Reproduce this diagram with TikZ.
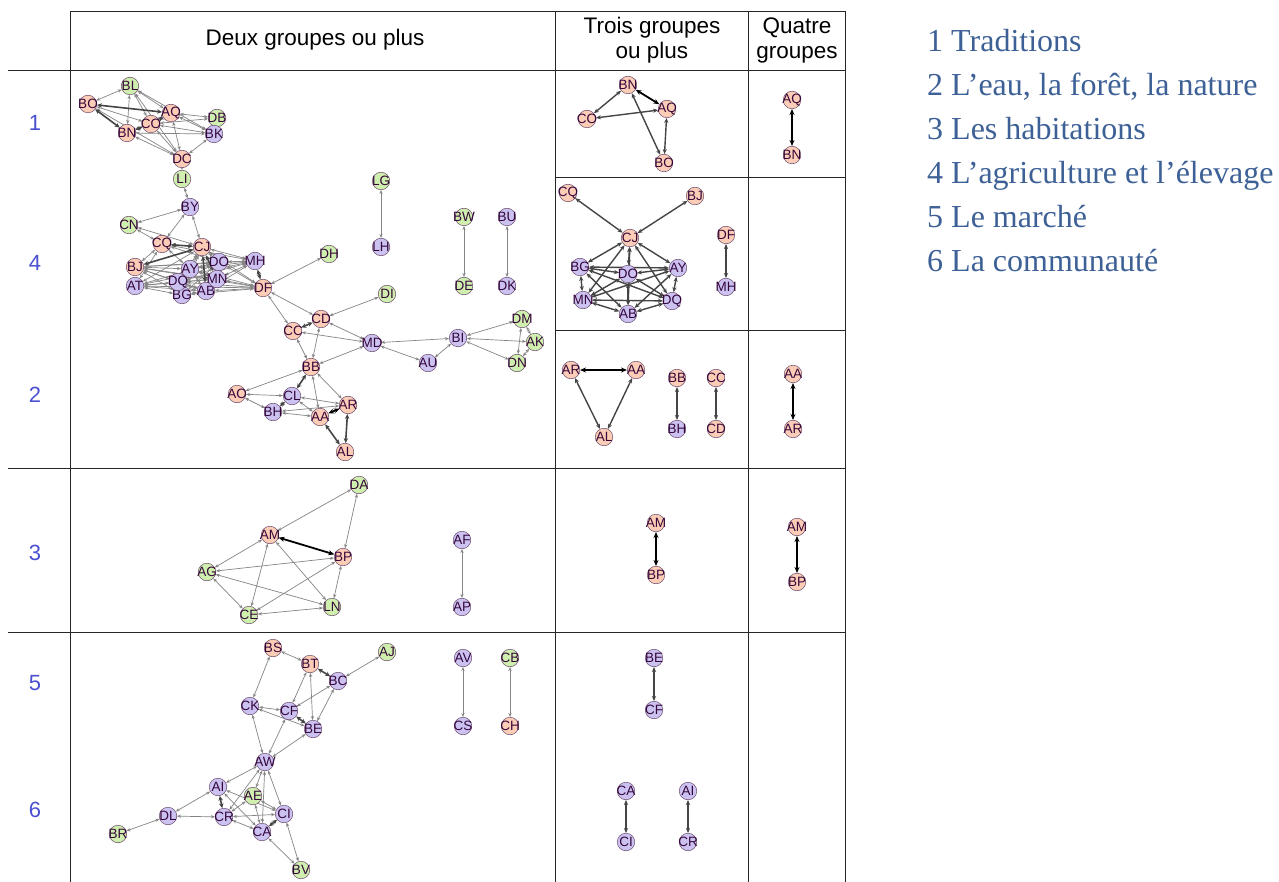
\documentclass[tikz,border=0pt]{standalone}
\usepackage{fontspec}
\setmainfont{Liberation Serif}
\setsansfont{Liberation Sans}
\usetikzlibrary{arrows.meta}
\definecolor{pinkc}{HTML}{FCCDB6}
\definecolor{greenc}{HTML}{CFEFAE}
\definecolor{lavc}{HTML}{CBC2F2}
\definecolor{nbord}{HTML}{6A4A6A}
\definecolor{ntext}{HTML}{35063A}
\definecolor{edgec}{HTML}{858585}
\definecolor{edged}{HTML}{454545}
\definecolor{rowblue}{HTML}{4A50D0}
\definecolor{legblue}{HTML}{3D6196}
\pgfdeclarelayer{bglayer}
\pgfdeclarelayer{edgelayer}
\pgfsetlayers{bglayer,edgelayer,main}
\newcommand\gn[4]{\node[#1] (#2) at (#3) {\makebox[0pt]{#4}};}
\begin{document}
\begin{tikzpicture}[x=1pt,y=-1pt,
  nd/.style={circle,draw=nbord,line width=0.5pt,minimum size=17.5pt,inner sep=0pt,text=ntext,font=\sffamily\fontsize{13.5}{13.5}\selectfont},
  pk/.style={nd,fill=pinkc},
  gr/.style={nd,fill=greenc},
  lv/.style={nd,fill=lavc},
  e/.style={draw=edgec,line width=0.7pt,arrows={Stealth[length=4pt,width=3.2pt]-Stealth[length=4pt,width=3.2pt]}},
  et/.style={draw=edged,line width=1.6pt,arrows={Stealth[length=5pt,width=4.5pt]-Stealth[length=5pt,width=4.5pt]}},
  eb/.style={draw=black,line width=1.8pt,arrows={Stealth[length=6pt,width=5pt]-Stealth[length=6pt,width=5pt]}},
  em/.style={draw=edged,line width=1.4pt,arrows={Stealth[length=5pt,width=4.2pt]-Stealth[length=5pt,width=4.2pt]}},
  tl/.style={draw=black!85,line width=0.9pt},
  hd/.style={font=\sffamily\fontsize{22.5}{25}\selectfont,align=center,inner sep=0pt},
  rl/.style={font=\sffamily\fontsize{22}{22}\selectfont,text=rowblue,inner sep=0pt},
  lg/.style={font=\rmfamily\fontsize{32}{32}\selectfont,text=legblue,anchor=base west,inner sep=0pt}
]
\useasboundingbox (0,0) rectangle (1279,882);
\begin{pgfonlayer}{bglayer}
\fill[white] (0,0) rectangle (1279,882);
\end{pgfonlayer}
% table frame
\draw[tl] (70,11) -- (845,11);
\draw[tl] (8,70) -- (845,70);
\draw[tl] (555,177) -- (845,177);
\draw[tl] (555,330) -- (845,330);
\draw[tl] (8,468) -- (845,468);
\draw[tl] (8,632) -- (845,632);
\draw[tl] (70,11) -- (70,882);
\draw[tl] (555,11) -- (555,882);
\draw[tl] (748,11) -- (748,882);
\draw[tl] (845,11) -- (845,882);
% headers
\node[hd] (h1) at (315,40) {Deux groupes ou plus};
\node[hd] (h2) at (652,40) {Trois groupes\\ou plus};
\node[hd] (h3) at (797,40) {Quatre\\groupes};
% row labels
\node[rl] (r1) at (35,123) {1};
\node[rl] (r4) at (35,263) {4};
\node[rl] (r2) at (35,395) {2};
\node[rl] (r3) at (35,553) {3};
\node[rl] (r5) at (35,683) {5};
\node[rl] (r6) at (35,810) {6};
% legend
\node[lg] (l1) at (927,52) {1 Traditions};
\node[lg] (l2) at (927,96) {2 L’eau, la forêt, la nature};
\node[lg] (l3) at (927,140) {3 Les habitations};
\node[lg] (l4) at (927,184) {4 L’agriculture et l’élevage};
\node[lg] (l5) at (927,228) {5 Le marché};
\node[lg] (l6) at (927,272) {6 La communauté};
% ---------- panel a : rows 1,4,2, deux groupes
\gn{gr}{aBL}{130,86}{BL}
\gn{pk}{aBO}{88,104}{BO}
\gn{pk}{aAQ}{171,113}{AQ}
\gn{gr}{aDB}{217,118}{DB}
\gn{pk}{aCO}{151,124}{CO}
\gn{pk}{aBN}{127,133}{BN}
\gn{lv}{aBK}{214,134}{BK}
\gn{pk}{aDC}{182,159}{DC}
\gn{gr}{aLI}{182,179}{LI}
\gn{lv}{aBY}{190,207}{BY}
\gn{gr}{aCN}{129,225}{CN}
\gn{pk}{aCQ}{162,244}{CQ}
\gn{pk}{aCJ}{202,247}{CJ}
\gn{pk}{aBJ}{135,267}{BJ}
\gn{lv}{aDO}{219,262}{DO}
\gn{lv}{aMH}{255,261}{MH}
\gn{lv}{aAT}{135,286}{AT}
\gn{lv}{aBG}{182,295}{BG}
\gn{lv}{aDQ}{178,282}{DQ}
\gn{lv}{aAY}{190,269}{AY}
\gn{lv}{aAB}{206,291}{AB}
\gn{lv}{aMN}{217,279}{MN}
\gn{pk}{aDF}{263,288}{DF}
\gn{gr}{aDH}{329,254}{DH}
\gn{gr}{aLG}{381,181}{LG}
\gn{lv}{aLH}{381,247}{LH}
\gn{gr}{aBW}{464,217}{BW}
\gn{lv}{aBU}{507,217}{BU}
\gn{gr}{aDE}{464,286}{DE}
\gn{lv}{aDK}{507,286}{DK}
\gn{gr}{aDI}{387,294}{DI}
\gn{pk}{aCD}{321,319}{CD}
\gn{pk}{aCC}{293,331}{CC}
\gn{lv}{aMD}{372,343}{MD}
\gn{lv}{aBI}{458,338}{BI}
\gn{gr}{aDM}{522,319}{DM}
\gn{gr}{aAK}{535,342}{AK}
\gn{gr}{aDN}{517,363}{DN}
\gn{lv}{aAU}{428,363}{AU}
\gn{pk}{aBB}{311,367}{BB}
\gn{pk}{aAO}{237,394}{AO}
\gn{lv}{aCL}{292,396}{CL}
\gn{pk}{aAR}{348,405}{AR}
\gn{lv}{aBH}{273,412}{BH}
\gn{pk}{aAA}{320,417}{AA}
\gn{pk}{aAL}{345,452}{AL}
% ---------- panel c : row 3, deux groupes
\gn{gr}{cDA}{359,485}{DA}
\gn{pk}{cAM}{270,535}{AM}
\gn{pk}{cBP}{343,557}{BP}
\gn{gr}{cAG}{207,572}{AG}
\gn{gr}{cLN}{332,607}{LN}
\gn{gr}{cCE}{249,615}{CE}
\gn{lv}{cAF}{462,540}{AF}
\gn{lv}{cAP}{462,607}{AP}
% ---------- panel e : rows 5,6, deux groupes
\gn{pk}{eBS}{273,648}{BS}
\gn{pk}{eBT}{310,664}{BT}
\gn{gr}{eAJ}{387,652}{AJ}
\gn{lv}{eBC}{338,681}{BC}
\gn{lv}{eCK}{250,706}{CK}
\gn{lv}{eCF}{289,711}{CF}
\gn{lv}{eBE}{313,729}{BE}
\gn{lv}{eAW}{265,762}{AW}
\gn{lv}{eAI}{218,787}{AI}
\gn{gr}{eAE}{253,796}{AE}
\gn{lv}{eCI}{284,814}{CI}
\gn{lv}{eDL}{168,816}{DL}
\gn{lv}{eCR}{224,817}{CR}
\gn{lv}{eCA}{262,832}{CA}
\gn{gr}{eBR}{118,834}{BR}
\gn{gr}{eBV}{301,870}{BV}
\gn{lv}{eAV}{463,658}{AV}
\gn{lv}{eCS}{463,726}{CS}
\gn{gr}{eCB}{510,658}{CB}
\gn{pk}{eCH}{510,726}{CH}
% ---------- trois groupes
\gn{pk}{tBN}{628,85}{BN}
\gn{pk}{tAQ}{667,109}{AQ}
\gn{pk}{tCO}{587,119}{CO}
\gn{pk}{tBO}{664,163}{BO}
\gn{pk}{uCQ}{568,193}{CQ}
\gn{pk}{uBJ}{695,196}{BJ}
\gn{pk}{uCJ}{630,238}{CJ}
\gn{pk}{uDF}{726,235}{DF}
\gn{lv}{uBG}{580,267}{BG}
\gn{lv}{uDO}{628,274}{DO}
\gn{lv}{uAY}{678,268}{AY}
\gn{lv}{uMH}{726,287}{MH}
\gn{lv}{uMN}{583,300}{MN}
\gn{lv}{uDQ}{672,301}{DQ}
\gn{lv}{uAB}{628,314}{AB}
\gn{pk}{vAR}{571,370}{AR}
\gn{pk}{vAA}{636,370}{AA}
\gn{pk}{vAL}{604,437}{AL}
\gn{pk}{vBB}{677,378}{BB}
\gn{lv}{vBH}{677,429}{BH}
\gn{pk}{vCC}{716,378}{CC}
\gn{pk}{vCD}{716,429}{CD}
\gn{pk}{wAM}{656,523}{AM}
\gn{pk}{wBP}{656,575}{BP}
\gn{lv}{xBE}{654,658}{BE}
\gn{lv}{xCF}{654,710}{CF}
\gn{lv}{xCA}{626,791}{CA}
\gn{lv}{xCI}{626,842}{CI}
\gn{lv}{xAI}{688,791}{AI}
\gn{lv}{xCR}{688,842}{CR}
% ---------- quatre groupes
\gn{pk}{qAQ}{792,100}{AQ}
\gn{pk}{qBN}{792,155}{BN}
\gn{pk}{qAA}{793,374}{AA}
\gn{pk}{qAR}{793,429}{AR}
\gn{pk}{qAM}{797,527}{AM}
\gn{pk}{qBP}{797,582}{BP}
% ---------- edges
\begin{pgfonlayer}{edgelayer}
\foreach \u/\v in {BL/BO,BL/AQ,BL/BN,BL/CO,BL/DC,BL/BK,BO/CO,BO/DC,AQ/DB,AQ/BK,AQ/BN,AQ/DC,CO/DB,CO/BK,CO/DC,BN/BK,BN/DC,BK/DC,BK/DB,DC/LI,
  LI/BY,BY/CN,BY/CQ,BY/CJ,CN/CQ,CN/CJ,CQ/BJ,CQ/AT,CQ/AY,CQ/DO,CQ/MH,CJ/MH,CJ/DF,CJ/AT,CJ/DQ,CJ/BG,CJ/AY,CJ/DO,
  BJ/DO,BJ/MN,BJ/AY,BJ/DQ,BJ/AB,BJ/MH,BJ/DF,BJ/BG,AT/DO,AT/MN,AT/AB,AT/DF,AT/DQ,AT/BG,AT/MH,
  DO/MH,DO/DF,DO/AY,DO/MN,DO/AB,DO/DQ,DO/BG,AY/MN,AY/DQ,AY/AB,AY/BG,AY/MH,AY/DF,DQ/MN,DQ/BG,DQ/AB,DQ/DF,DQ/MH,
  MN/AB,MN/BG,MN/DF,MN/MH,BG/AB,BG/DF,AB/DF,AB/MH,DF/DH,DF/CD,DF/CC,
  LG/LH,BW/DE,BU/DK,DI/CD,CD/MD,CC/MD,CC/BB,CD/BB,MD/BB,MD/BI,MD/AU,AU/BI,BI/DM,BI/AK,BI/DN,DM/DN,DM/AK,DN/AK,
  BB/AO,BB/AA,BB/AR,AO/CL,AO/BH,CL/AR,CL/AA,BH/AA,BH/AR}
  \draw[e] (a\u) -- (a\v);
\foreach \u/\v in {BO/AQ,BO/BN,CO/BN,CO/AQ,CQ/CJ,CJ/BJ,CJ/AB,CJ/MN,MH/DF,CD/CC,BB/CL,CL/BH,AA/AL,AR/AL}
  \draw[et] (a\u) -- (a\v);
\draw[eb] (aAA) -- (aAR);
\foreach \u/\v in {DA/AM,DA/BP,AM/AG,AM/CE,AM/LN,AG/BP,AG/CE,AG/LN,CE/BP,CE/LN,LN/BP,AF/AP}
  \draw[e] (c\u) -- (c\v);
\draw[eb] (cAM) -- (cBP);
\foreach \u/\v in {BS/BT,BS/CK,BT/CF,BT/BE,AJ/BC,BC/CF,BC/BE,CK/CF,CK/BE,CK/AW,CF/AW,BE/AW,AW/AI,AW/AE,AW/CI,AW/CR,AW/CA,
  AI/DL,AI/CI,AI/CA,AE/CR,AE/CA,AE/CI,DL/CR,DL/BR,CR/CI,CR/CA,CA/BV,CI/BV,AV/CS,CB/CH}
  \draw[e] (e\u) -- (e\v);
\foreach \u/\v in {BT/BC,CF/BE,AI/CR,CA/CI}
  \draw[et] (e\u) -- (e\v);
\draw[eb] (tBN) -- (tAQ);
\foreach \u/\v in {BN/CO,BN/BO,AQ/CO,AQ/BO} \draw[em] (t\u) -- (t\v);
\foreach \u/\v in {CQ/CJ,BJ/CJ,DF/MH,CJ/BG,CJ/DO,CJ/AY,CJ/MN,CJ/DQ,CJ/AB,BG/DO,BG/AY,BG/MN,BG/DQ,BG/AB,DO/AY,DO/MN,DO/DQ,DO/AB,AY/MN,AY/DQ,AY/AB,MN/DQ,MN/AB,DQ/AB}
  \draw[em] (u\u) -- (u\v);
\draw[eb] (vAR) -- (vAA);
\foreach \u/\v in {AR/AL,AA/AL,BB/BH,CC/CD} \draw[em] (v\u) -- (v\v);
\draw[eb] (wAM) -- (wBP);
\foreach \u/\v in {BE/CF,CA/CI,AI/CR} \draw[em] (x\u) -- (x\v);
\draw[eb] (qAQ) -- (qBN);
\draw[eb] (qAA) -- (qAR);
\draw[eb] (qAM) -- (qBP);
\end{pgfonlayer}
\end{tikzpicture}
\end{document}
